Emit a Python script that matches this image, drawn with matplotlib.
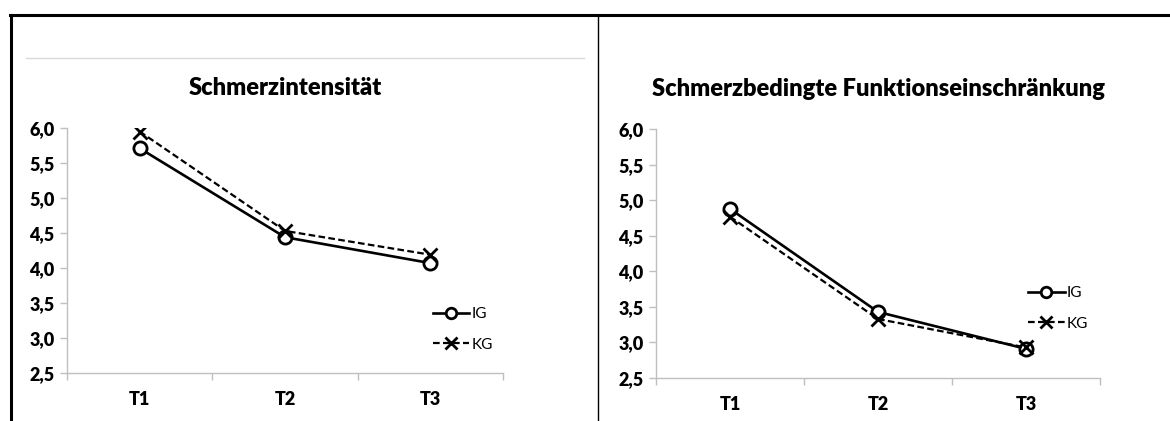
import matplotlib
matplotlib.use("Agg")
import matplotlib.pyplot as plt
from matplotlib.lines import Line2D

# Data
categories = ["T1", "T2", "T3"]
yticks = [2.5, 3.0, 3.5, 4.0, 4.5, 5.0, 5.5, 6.0]
ytick_labels = ["2,5", "3,0", "3,5", "4,0", "4,5", "5,0", "5,5", "6,0"]

titles = ["Schmerzintensität", "Schmerzbedingte Funktionseinschränkung"]
ig_intensity = [5.71, 4.44, 4.07]
kg_intensity = [5.95, 4.53, 4.19]
ig_function = [4.88, 3.43, 2.91]
kg_function = [4.77, 3.33, 2.93]
series_names = ["IG", "KG"]

plt.rcParams['font.family'] = ['Lato', 'DejaVu Sans']

W, H = 1170, 421
fig = plt.figure(figsize=(W / 100, H / 100), dpi=100)

def px_axes(x0, x1, ytop, ybot):
    return fig.add_axes([x0 / W, 1 - ybot / H, (x1 - x0) / W, (ybot - ytop) / H])

# table-like frame lines
fig.add_artist(Line2D([10 / W, 1.0], [1 - 14.5 / H, 1 - 14.5 / H], color="black", lw=2.2))
fig.add_artist(Line2D([10.5 / W, 10.5 / W], [0, 1 - 14.5 / H], color="black", lw=2.2))
fig.add_artist(Line2D([597.5 / W, 597.5 / W], [0, 1 - 14.5 / H], color="black", lw=1.0))
fig.add_artist(Line2D([26 / W, 584 / W], [1 - 58 / H, 1 - 58 / H], color="#d9d9d9", lw=1.0))

panels = [
    (px_axes(67, 503, 128, 373), ig_intensity, kg_intensity, 0.839, 0.27),
    (px_axes(656, 1100, 129.3, 378), ig_function, kg_function, 0.838, 0.37),
]

x = list(range(len(categories)))
for i, (ax, ig, kg, lx, ly) in enumerate(panels):
    ax.plot(x, ig, color="black", lw=1.9, ls="-", marker="o", ms=9.5,
            mfc="white", mec="black", mew=2.0, label=series_names[0], zorder=3)
    ax.plot(x, kg, color="black", lw=1.6, ls=(0, (3, 1.5)), marker="x", ms=10,
            mec="black", mew=2.0, label=series_names[1], zorder=4)
    ax.set_xlim(-0.5, 2.5)
    ax.set_ylim(2.5, 6.0)
    ax.set_yticks(yticks)
    ax.set_yticklabels(ytick_labels, fontsize=13, fontweight="heavy")
    ax.set_xticks(x)
    ax.set_xticklabels(categories, fontsize=13, fontweight="heavy")
    ax.set_xticks([-0.5, 0.5, 1.5, 2.5], minor=True)
    ax.tick_params(axis="x", which="major", length=0, pad=13)
    ax.tick_params(axis="x", which="minor", length=5, color="#bfbfbf", width=1, direction="out")
    ax.tick_params(axis="y", length=5, color="#bfbfbf", width=1, direction="out", pad=4)
    for s in ["top", "right"]:
        ax.spines[s].set_visible(False)
    for s in ["left", "bottom"]:
        ax.spines[s].set_color("#bfbfbf")
        ax.spines[s].set_linewidth(1.0)
    ax.set_title(titles[i], fontsize=17, fontweight="heavy", pad=24)
    ax.legend(loc="upper left", bbox_to_anchor=(lx, ly), frameon=False, fontsize=11,
              handlelength=2.4, handletextpad=0.15, labelspacing=1.1, borderpad=0,
              borderaxespad=0, markerscale=0.8)
    ax.patch.set_alpha(0)

fig.savefig("out.png", dpi=100)
